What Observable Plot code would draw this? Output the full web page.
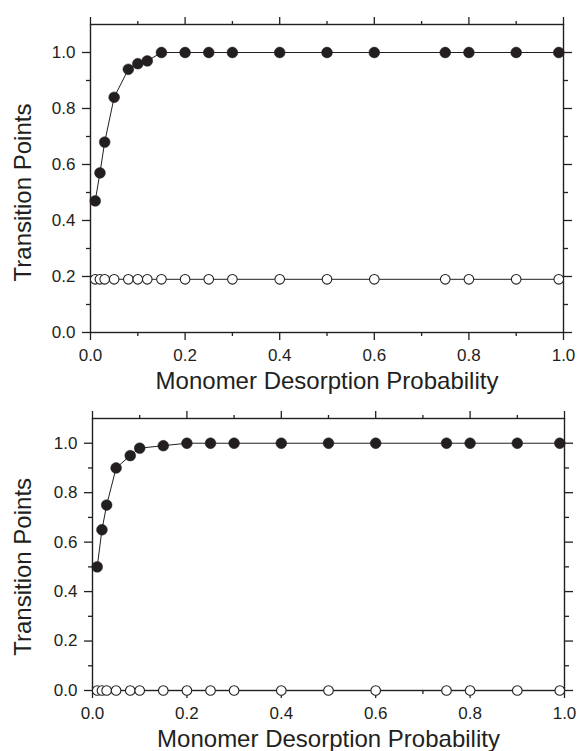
<!DOCTYPE html>
<html>
<head>
<meta charset="utf-8">
<script src="https://cdn.jsdelivr.net/npm/d3@7"></script>
<script src="https://cdn.jsdelivr.net/npm/@observablehq/plot@0.6"></script>
<style>
  html, body { margin: 0; padding: 0; background: #fff; }
  #chart svg { display: block; }
</style>
</head>
<body>
<div id="chart"></div>
<script>
// ---- data ----
const xTop = [0.01, 0.02, 0.03, 0.05, 0.08, 0.10, 0.12, 0.15, 0.20, 0.25, 0.30, 0.40, 0.50, 0.60, 0.75, 0.80, 0.90, 0.99];
const topFilled = [0.47, 0.57, 0.68, 0.84, 0.94, 0.96, 0.97, 1.00, 1.00, 1.00, 1.00, 1.00, 1.00, 1.00, 1.00, 1.00, 1.00, 1.00];
const topOpen = [0.19, 0.19, 0.19, 0.19, 0.19, 0.19, 0.19, 0.19, 0.19, 0.19, 0.19, 0.19, 0.19, 0.19, 0.19, 0.19, 0.19, 0.19];

const xBottom = [0.01, 0.02, 0.03, 0.05, 0.08, 0.10, 0.15, 0.20, 0.25, 0.30, 0.40, 0.50, 0.60, 0.75, 0.80, 0.90, 0.99];
const bottomFilled = [0.50, 0.65, 0.75, 0.90, 0.95, 0.98, 0.99, 1.00, 1.00, 1.00, 1.00, 1.00, 1.00, 1.00, 1.00, 1.00, 1.00];
const bottomOpen = [0, 0, 0, 0, 0, 0, 0, 0, 0, 0, 0, 0, 0, 0, 0, 0, 0];

const majorX = [0, 0.2, 0.4, 0.6, 0.8, 1.0];
const minorX = [0.1, 0.3, 0.5, 0.7, 0.9];
const majorY = [0, 0.2, 0.4, 0.6, 0.8, 1.0];
const minorY = [0.1, 0.3, 0.5, 0.7, 0.9];

const xTitle = "Monomer Desorption Probability";
const yTitle = "Transition Points";

// ---- drawing ----
const ink = "#231f20";
const fmt = d3.format(".1f");
const blank = () => "";

function panel({xs, filled, open, height, marginLeft, marginRight, marginTop, marginBottom, yLabelDx, xLabelDy}) {
  return Plot.plot({
    width: 579,
    height,
    marginLeft, marginRight, marginTop, marginBottom,
    x: {domain: [0, 1]},
    y: {domain: [0, 1.1]},
    style: {
      fontFamily: "'Liberation Sans', Arial, Helvetica, sans-serif",
      fontSize: "17px",
      color: ink,
      background: "white",
      overflow: "visible"
    },
    marks: [
      Plot.frame({stroke: ink, strokeWidth: 1.4}),
      // bottom axis
      Plot.axisX({anchor: "bottom", ticks: majorX, tickSize: 8, tickPadding: 8, tickFormat: fmt, label: null, strokeWidth: 1.3, fontSize: 17}),
      Plot.axisX({anchor: "bottom", ticks: minorX, tickSize: 4, tickFormat: blank, label: null, strokeWidth: 1.3}),
      // top axis
      Plot.axisX({anchor: "top", ticks: majorX, tickSize: 8, tickFormat: blank, label: null, strokeWidth: 1.3}),
      Plot.axisX({anchor: "top", ticks: minorX, tickSize: 4, tickFormat: blank, label: null, strokeWidth: 1.3}),
      // left axis
      Plot.axisY({anchor: "left", ticks: majorY, tickSize: 8, tickPadding: 7, tickFormat: fmt, label: null, strokeWidth: 1.3, fontSize: 17}),
      Plot.axisY({anchor: "left", ticks: minorY, tickSize: 4, tickFormat: blank, label: null, strokeWidth: 1.3}),
      // right axis
      Plot.axisY({anchor: "right", ticks: majorY, tickSize: 8, tickFormat: blank, label: null, strokeWidth: 1.3}),
      Plot.axisY({anchor: "right", ticks: minorY, tickSize: 4, tickFormat: blank, label: null, strokeWidth: 1.3}),
      // titles
      Plot.text([xTitle], {text: d => d, frameAnchor: "bottom", textAnchor: "middle", lineAnchor: "bottom", dy: xLabelDy, fontSize: 24, fill: ink}),
      Plot.text([0.5], {y: d => d, text: () => yTitle, frameAnchor: "left", textAnchor: "middle", lineAnchor: "middle", dx: yLabelDx, rotate: -90, fontSize: 24, fill: ink}),
      // series
      Plot.line(xs, {x: xs, y: open, stroke: ink, strokeWidth: 1}),
      Plot.line(xs, {x: xs, y: filled, stroke: ink, strokeWidth: 1}),
      Plot.dot(xs, {x: xs, y: open, r: 4.8, fill: "white", stroke: ink, strokeWidth: 1.1}),
      Plot.dot(xs, {x: xs, y: filled, r: 5.4, fill: ink, stroke: ink, strokeWidth: 0.5})
    ]
  });
}

const chart = document.getElementById("chart");
chart.append(panel({
  xs: xTop, filled: topFilled, open: topOpen,
  height: 392, marginLeft: 90, marginRight: 16, marginTop: 24, marginBottom: 60,
  yLabelDx: -67, xLabelDy: 56
}));
chart.append(panel({
  xs: xBottom, filled: bottomFilled, open: bottomOpen,
  height: 359, marginLeft: 92, marginRight: 15, marginTop: 26, marginBottom: 61,
  yLabelDx: -69, xLabelDy: 56
}));
</script>
</body>
</html>
